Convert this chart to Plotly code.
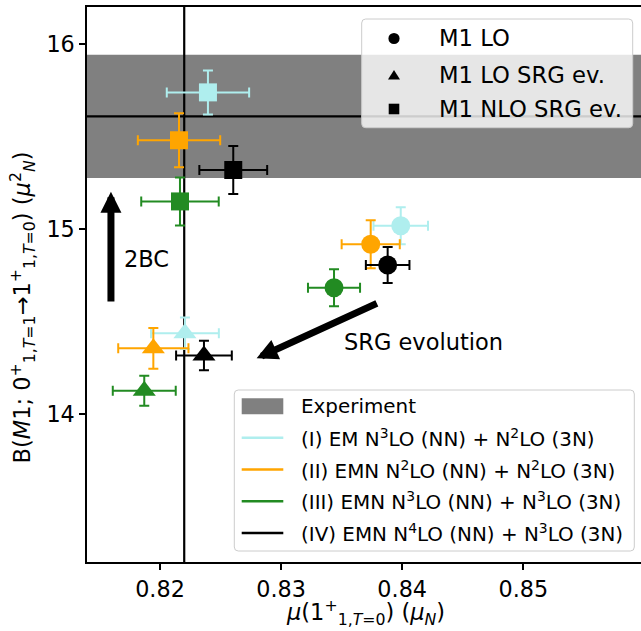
import plotly.graph_objects as go

# ---------------- data ----------------
interactions = [
    "(I) EM N<sup>3</sup>LO (NN) + N<sup>2</sup>LO (3N)",
    "(II) EMN N<sup>2</sup>LO (NN) + N<sup>2</sup>LO (3N)",
    "(III) EMN N<sup>3</sup>LO (NN) + N<sup>3</sup>LO (3N)",
    "(IV) EMN N<sup>4</sup>LO (NN) + N<sup>3</sup>LO (3N)",
]
colors = ["#afeeee", "#ffa500", "#228b22", "#000000"]

# M1 LO (circles)
lo_mu = [0.83988, 0.83740, 0.83437, 0.83880]
lo_mu_err = [0.00225, 0.0024, 0.00215, 0.0018]
lo_b = [15.018, 14.918, 14.683, 14.806]
lo_b_err = [0.10, 0.13, 0.10, 0.097]

# M1 LO SRG evolved (triangles)
losrg_mu = [0.82206, 0.81945, 0.81870, 0.82363]
losrg_mu_err = [0.0028, 0.0029, 0.0026, 0.0023]
losrg_b = [14.437, 14.355, 14.126, 14.316]
losrg_b_err = [0.085, 0.11, 0.081, 0.08]

# M1 NLO SRG evolved (squares)
nlo_mu = [0.82396, 0.82157, 0.82165, 0.82605]
nlo_mu_err = [0.0034, 0.0034, 0.0032, 0.0028]
nlo_b = [15.740, 15.481, 15.150, 15.320]
nlo_b_err = [0.119, 0.146, 0.13, 0.13]

# experiment
exp_mu = 0.822
exp_b = 15.61
exp_b_err = 0.333

marker_labels = ["M1 LO", "M1 LO SRG ev.", "M1 NLO SRG ev."]
xticks = [0.82, 0.83, 0.84, 0.85]
yticks = [14, 15, 16]

# arrows (tail -> tip, data coordinates)
arrow_2bc = dict(tail=(0.81595, 14.601), tip=(0.81595, 15.202), text="2BC", text_pos=(0.81890, 14.838))
arrow_srg = dict(tail=(0.83803, 14.602), tip=(0.82798, 14.301), text="SRG evolution", text_pos=(0.84175, 14.391))

# ---------------- layout geometry ----------------
W, H = 641, 631
ML, MR, MT, MB = 87, 0, 7, 69
PW = W - ML - MR
PH = H - MT - MB
FONT = "DejaVu Sans"


def px(x):
    return (x - ML) / PW


def py(y):
    return (H - MB - y) / PH


fig = go.Figure()

sets = [
    (lo_mu, lo_mu_err, lo_b, lo_b_err, "circle", 19),
    (losrg_mu, losrg_mu_err, losrg_b, losrg_b_err, "triangle-up", 20),
    (nlo_mu, nlo_mu_err, nlo_b, nlo_b_err, "square", 18),
]
for i, c in enumerate(colors):
    for (mx, mxe, by, bye, sym, size) in sets:
        fig.add_trace(go.Scatter(
            x=[mx[i]], y=[by[i]], mode="markers",
            marker=dict(symbol=sym, size=size, color=c, line=dict(width=0)),
            error_x=dict(type="data", array=[mxe[i]], color=c, thickness=2, width=5),
            error_y=dict(type="data", array=[bye[i]], color=c, thickness=2, width=5),
            showlegend=False, hoverinfo="skip",
        ))

shapes = []
# experiment band and lines
shapes.append(dict(type="rect", xref="paper", yref="y", x0=0, x1=1,
                   y0=exp_b - exp_b_err, y1=exp_b + exp_b_err,
                   fillcolor="#808080", line=dict(width=0), layer="below"))
shapes.append(dict(type="line", xref="paper", yref="y", x0=0, x1=1, y0=exp_b, y1=exp_b,
                   line=dict(color="black", width=2.2), layer="below"))
shapes.append(dict(type="line", xref="x", yref="paper", x0=exp_mu, x1=exp_mu, y0=0, y1=1,
                   line=dict(color="black", width=2.2), layer="below"))


def rounded_box(x0p, y0p, x1p, y1p, r=4):
    x0, x1 = px(x0p), px(x1p)
    y0, y1 = py(y1p), py(y0p)  # bottom, top in paper
    rx, ry = r / PW, r / PH
    path = (f"M {x0+rx},{y0} L {x1-rx},{y0} Q {x1},{y0} {x1},{y0+ry} "
            f"L {x1},{y1-ry} Q {x1},{y1} {x1-rx},{y1} L {x0+rx},{y1} "
            f"Q {x0},{y1} {x0},{y1-ry} L {x0},{y0+ry} Q {x0},{y0} {x0+rx},{y0} Z")
    return dict(type="path", xref="paper", yref="paper", path=path,
                fillcolor="rgba(255,255,255,0.8)", line=dict(color="#cccccc", width=1),
                layer="above")


annotations = []

# ---- legend 1 (marker types) ----
shapes.append(rounded_box(361.7, 19, 632.7, 127.7))
rows1 = [38.5, 75, 109]
mxp = 394
s = 5.6
# circle
shapes.append(dict(type="circle", xref="paper", yref="paper",
                   x0=px(mxp - s), x1=px(mxp + s), y0=py(rows1[0] + s), y1=py(rows1[0] - s),
                   fillcolor="black", line=dict(width=0), layer="above"))
# triangle
ty = rows1[1]
tri = (f"M {px(mxp - 6)},{py(ty + 4.5)} L {px(mxp + 6)},{py(ty + 4.5)} "
       f"L {px(mxp)},{py(ty - 5)} Z")
shapes.append(dict(type="path", xref="paper", yref="paper", path=tri,
                   fillcolor="black", line=dict(width=0), layer="above"))
# square
shapes.append(dict(type="rect", xref="paper", yref="paper",
                   x0=px(mxp - 5.3), x1=px(mxp + 5.3), y0=py(rows1[2] + 5.3), y1=py(rows1[2] - 5.3),
                   fillcolor="black", line=dict(width=0), layer="above"))
for lab, ry in zip(marker_labels, rows1):
    annotations.append(dict(xref="paper", yref="paper", x=px(437.3), y=py(ry),
                            xanchor="left", yanchor="middle", showarrow=False, text=lab,
                            font=dict(family=FONT, size=22.7, color="black")))

# ---- legend 2 (interactions) ----
shapes.append(rounded_box(234.3, 390, 634.3, 551))
shapes.append(dict(type="rect", xref="paper", yref="paper",
                   x0=px(241.7), x1=px(283.3), y0=py(414.3), y1=py(398.3),
                   fillcolor="#808080", line=dict(width=0), layer="above"))
annotations.append(dict(xref="paper", yref="paper", x=px(299.3), y=py(406.5),
                        xanchor="left", yanchor="middle", showarrow=False, text="Experiment",
                        font=dict(family=FONT, size=19.9, color="black")))
rows2 = [437.7, 469.5, 501.3, 533]
for lab, c, ry in zip(interactions, colors, rows2):
    shapes.append(dict(type="line", xref="paper", yref="paper",
                       x0=px(241.7), x1=px(283.3), y0=py(ry), y1=py(ry),
                       line=dict(color=c, width=2.5), layer="above"))
    annotations.append(dict(xref="paper", yref="paper", x=px(299.3), y=py(ry),
                            xanchor="left", yanchor="middle", showarrow=False, text=lab,
                            font=dict(family=FONT, size=19.9, color="black")))

# ---- arrows ----
for a in (arrow_2bc, arrow_srg):
    annotations.append(dict(xref="x", yref="y", axref="x", ayref="y",
                            x=a["tip"][0], y=a["tip"][1], ax=a["tail"][0], ay=a["tail"][1],
                            text="", showarrow=True, arrowhead=2, arrowwidth=7,
                            arrowsize=0.6, arrowcolor="black", standoff=0))
    annotations.append(dict(xref="x", yref="y", x=a["text_pos"][0], y=a["text_pos"][1],
                            text=a["text"], showarrow=False, xanchor="center", yanchor="middle",
                            font=dict(family=FONT, size=22.5, color="black")))

# ---- axis titles ----
annotations.append(dict(xref="paper", yref="paper", x=px(22), y=py(307.5),
                        xanchor="center", yanchor="middle", textangle=-90, showarrow=False,
                        text="B(<i>M</i>1; 0<sup>+</sup><sub>1,<i>T</i>=1</sub>→1<sup>+</sup>"
                             "<sub>1,<i>T</i>=0</sub>) (<i>μ</i><sup>2</sup><sub><i>N</i></sub>)",
                        font=dict(family=FONT, size=22.5, color="black")))
annotations.append(dict(xref="paper", yref="paper", x=px(365), y=py(612),
                        xanchor="center", yanchor="middle", showarrow=False,
                        text="<i>μ</i>(1<sup>+</sup><sub>1,<i>T</i>=0</sub>) (<i>μ</i><sub><i>N</i></sub>)",
                        font=dict(family=FONT, size=22.5, color="black")))

fig.update_layout(
    width=W, height=H,
    margin=dict(l=ML, r=MR, t=MT, b=MB, pad=0),
    paper_bgcolor="white", plot_bgcolor="white",
    showlegend=False,
    shapes=shapes, annotations=annotations,
    font=dict(family=FONT, size=22.3, color="black"),
)
fig.update_xaxes(range=[0.813972, 0.85972], tickvals=xticks,
                 ticktext=[f"{v:.2f}" for v in xticks],
                 ticks="outside", ticklen=6, tickwidth=1.5, tickcolor="black",
                 showline=True, linecolor="black", linewidth=1.5, mirror=True,
                 showgrid=False, zeroline=False,
                 tickfont=dict(family=FONT, size=22.3, color="black"))
fig.update_yaxes(range=[13.199, 16.202], tickvals=yticks,
                 ticktext=[str(v) for v in yticks],
                 ticks="outside", ticklen=6, tickwidth=1.5, tickcolor="black",
                 showline=True, linecolor="black", linewidth=1.5, mirror=False,
                 showgrid=False, zeroline=False,
                 tickfont=dict(family=FONT, size=22.3, color="black"))

fig.write_html("out.html", config={"displayModeBar": False},
               post_script="document.body.style.margin='0';document.body.style.overflow='hidden';")
